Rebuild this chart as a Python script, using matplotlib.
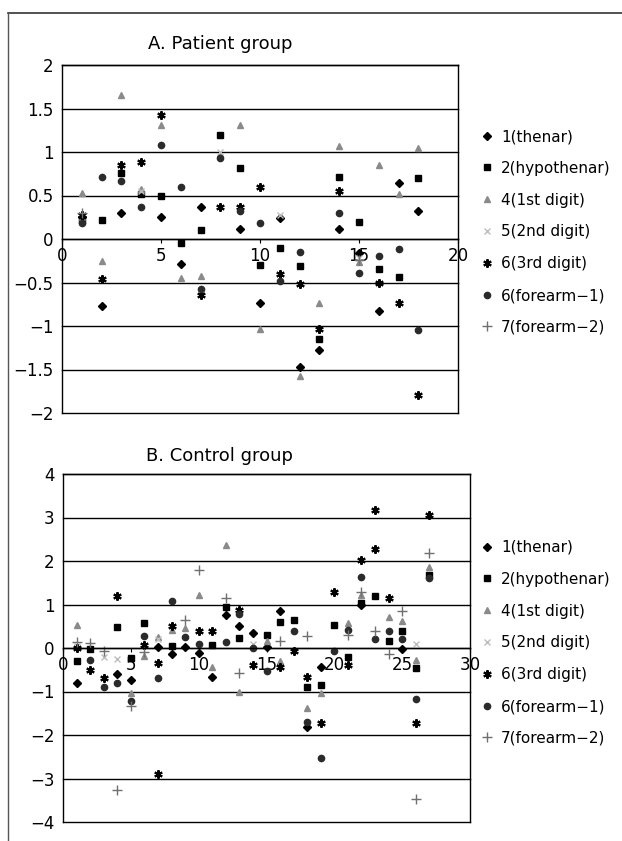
"""
Scatter of response values per subject for the patient and control groups.
Two stacked panels with a marker legend on the right of each.
"""

import matplotlib
matplotlib.use("Agg")
import matplotlib.pyplot as plt
from matplotlib.lines import Line2D

# ---------------------------------------------------------------------------
# Data: one (x, y) list pair per recording site
# ---------------------------------------------------------------------------
series_labels = ["1(thenar)", "2(hypothenar)", "4(1st digit)", "5(2nd digit)",
                 "6(3rd digit)", "6(forearm\u22121)", "7(forearm\u22122)"]

# A. Patient group
a_thenar_x = [1, 2, 3, 5, 6, 7, 9, 10, 11, 12, 13, 14, 15, 16, 17, 18]
a_thenar_y = [0.25, -0.77, 0.30, 0.25, -0.29, 0.37, 0.11, -0.73, 0.24,
              -1.47, -1.28, 0.11, -0.16, -0.83, 0.64, 0.32]
a_hypo_x = [1, 2, 3, 4, 5, 6, 7, 8, 9, 10, 11, 12, 13, 14, 15, 16, 17, 18]
a_hypo_y = [0.22, 0.22, 0.76, 0.52, 0.50, -0.05, 0.10, 1.20, 0.82, -0.30,
            -0.10, -0.31, -1.15, 0.71, 0.19, -0.35, -0.44, 0.70]
a_digit1_x = [1, 2, 3, 4, 5, 6, 7, 8, 9, 10, 12, 13, 14, 15, 16, 17, 18]
a_digit1_y = [0.53, -0.25, 1.66, 0.58, 1.31, -0.45, -0.43, 0.98, 1.31,
              -1.04, -1.58, -0.74, 1.07, -0.26, 0.85, 0.52, 1.05]
a_digit2_x = [1, 4, 8, 11, 15]
a_digit2_y = [0.20, 0.55, 1.00, 0.28, -0.22]
a_digit3_x = [1, 2, 3, 4, 5, 7, 8, 9, 10, 11, 12, 13, 14, 16, 17, 18]
a_digit3_y = [0.28, -0.46, 0.85, 0.88, 1.43, -0.64, 0.37, 0.37, 0.60,
              -0.40, -0.52, -1.03, 0.55, -0.50, -0.73, -1.79]
a_fore1_x = [1, 2, 3, 4, 5, 6, 7, 8, 9, 10, 11, 12, 14, 15, 16, 17, 18]
a_fore1_y = [0.18, 0.71, 0.67, 0.37, 1.08, 0.60, -0.57, 0.93, 0.32, 0.18,
             -0.48, -0.15, 0.30, -0.39, -0.20, -0.11, -1.05]
a_fore2_x = [1, 15]
a_fore2_y = [0.30, -0.24]

# B. Control group
b_thenar_x = [1, 4, 5, 7, 8, 9, 10, 11, 12, 13, 14, 15, 16, 18, 19, 22, 25]
b_thenar_y = [-0.81, -0.60, -0.74, 0.02, -0.14, 0.02, -0.12, -0.66, 0.76,
              0.50, 0.34, 0.02, 0.86, -1.81, -0.43, 1.00, -0.03]
b_hypo_x = [1, 2, 4, 5, 6, 8, 11, 12, 13, 15, 16, 17, 18, 19, 20, 21, 22,
            23, 24, 25, 26, 27]
b_hypo_y = [-0.31, -0.03, 0.48, -0.22, 0.57, 0.05, 0.07, 0.95, 0.22, 0.30,
            0.59, 0.64, -0.90, -0.85, 0.54, -0.20, 1.03, 1.20, 0.17, 0.39,
            -0.45, 1.68]
b_digit1_x = [1, 5, 6, 7, 8, 9, 10, 11, 12, 13, 15, 16, 18, 19, 21, 22, 24,
              25, 26, 27]
b_digit1_y = [0.53, -1.04, -0.18, 0.25, 0.41, 0.45, 1.22, -0.43, 2.37, -1.00,
              0.15, -0.31, -1.39, -1.04, 0.57, 1.22, 0.71, 0.62, -0.28, 1.87]
b_digit2_x = [1, 3, 4, 7, 14, 26]
b_digit2_y = [0.05, -0.20, -0.26, 0.20, 0.10, 0.10]
b_digit3_x = [1, 2, 3, 4, 6, 7, 7, 8, 10, 11, 13, 14, 16, 17, 18, 19, 20,
              21, 22, 23, 23, 24, 26, 27]
b_digit3_y = [0.00, -0.51, -0.70, 1.20, 0.07, -0.35, -2.90, 0.51, 0.40, 0.38,
              0.87, -0.39, -0.43, -0.06, -0.66, -1.73, 1.29, -0.39, 2.02,
              3.17, 2.28, 1.14, -1.73, 3.06]
b_fore1_x = [2, 3, 4, 5, 6, 7, 8, 9, 10, 12, 13, 14, 15, 17, 18, 19, 20, 21,
             22, 23, 24, 25, 26, 27]
b_fore1_y = [-0.28, -0.89, -0.80, -1.21, 0.28, -0.68, 1.07, 0.25, 0.09, 0.13,
             0.78, 0.00, -0.54, 0.39, -1.69, -2.54, -0.06, 0.41, 1.64, 0.20,
             0.38, 0.21, -1.18, 1.60]
b_fore2_x = [1, 2, 3, 4, 5, 6, 9, 10, 12, 13, 16, 18, 21, 22, 23, 24, 25,
             26, 27]
b_fore2_y = [0.14, 0.12, -0.08, -3.27, -1.33, -0.10, 0.64, 1.79, 1.14, -0.58,
             0.15, 0.28, 0.30, 1.29, 0.38, -0.14, 0.86, -3.48, 2.18]

# Marker style per series (same order as series_labels)
MARKER_STYLES = [
    dict(marker="D", ms=4.5, color="black", mec="black"),
    dict(marker="s", ms=4.2, color="black", mec="black"),
    dict(marker="^", ms=5, color="#8a8a8a", mec="#8a8a8a"),
    dict(marker="x", ms=4, color="#bdbdbd", mec="#bdbdbd", mew=1.0),
    dict(marker=(6, 2, 0), ms=6, color="black", mec="black", mew=1.5),
    dict(marker="o", ms=4.5, color="#2b2b2b", mec="#2b2b2b"),
    dict(marker="+", ms=7, color="#707070", mec="#707070", mew=1.0),
]

FONT = "DejaVu Sans"


def draw_panel(ax, data, xmax, ymin, ymax, ystep, yticks_fmt):
    """Draw one scatter panel with Excel-like framing."""
    for (xs, ys), style in zip(data, MARKER_STYLES):
        ax.plot(xs, ys, linestyle="none", **style)

    ax.set_xlim(0, xmax)
    ax.set_ylim(ymin, ymax)

    # horizontal grid lines at every major y value
    yvals = []
    v = ymin
    while v <= ymax + 1e-9:
        yvals.append(round(v, 3))
        v += ystep
    for yv in yvals:
        ax.axhline(yv, color="black", lw=1.0, zorder=1, clip_on=False)

    ax.set_yticks(yvals)
    ax.set_yticklabels([yticks_fmt(v) for v in yvals])
    ax.set_xticks(range(0, int(xmax) + 1, 5))

    # x axis crosses at zero
    ax.spines["bottom"].set_position(("data", 0))
    for side in ["left", "top", "right", "bottom"]:
        ax.spines[side].set_color("black")
        ax.spines[side].set_linewidth(1.0)

    ax.tick_params(axis="y", length=0, pad=6, labelsize=12)
    ax.tick_params(axis="x", direction="out", length=3, pad=3, labelsize=12)
    for lab in ax.get_xticklabels() + ax.get_yticklabels():
        lab.set_fontfamily(FONT)


def fmt_num(v):
    text = f"{v:g}"
    return text.replace("-", "\u2212")


def main():
    fig = plt.figure(figsize=(6.22, 8.41), dpi=100, facecolor="white")

    # outer scanned frame
    fig.add_artist(Line2D([8 / 622, 1], [1 - 13 / 841] * 2, color="#333333",
                          lw=1.2, transform=fig.transFigure))
    fig.add_artist(Line2D([8 / 622] * 2, [0, 1 - 13 / 841], color="#555555",
                          lw=1.0, transform=fig.transFigure))

    ax_a = fig.add_axes([62 / 622, 1 - 413 / 841, 396 / 622, 348 / 841])
    ax_b = fig.add_axes([63 / 622, 1 - 822 / 841, 407 / 622, 348 / 841])

    data_a = [(a_thenar_x, a_thenar_y), (a_hypo_x, a_hypo_y),
              (a_digit1_x, a_digit1_y), (a_digit2_x, a_digit2_y),
              (a_digit3_x, a_digit3_y), (a_fore1_x, a_fore1_y),
              (a_fore2_x, a_fore2_y)]
    data_b = [(b_thenar_x, b_thenar_y), (b_hypo_x, b_hypo_y),
              (b_digit1_x, b_digit1_y), (b_digit2_x, b_digit2_y),
              (b_digit3_x, b_digit3_y), (b_fore1_x, b_fore1_y),
              (b_fore2_x, b_fore2_y)]

    draw_panel(ax_a, data_a, 20, -2, 2, 0.5, fmt_num)
    draw_panel(ax_b, data_b, 30, -4, 4, 1, fmt_num)

    # panel titles
    fig.text(220 / 622, 1 - 44 / 841, "A. Patient group", ha="center",
             va="center", fontsize=13, family=FONT)
    fig.text(220 / 622, 1 - 456 / 841, "B. Control group", ha="center",
             va="center", fontsize=13, family=FONT)

    # legends
    handles = [Line2D([], [], linestyle="none", **st) for st in MARKER_STYLES]
    for top in (1 - 129 / 841, 1 - 540 / 841):
        fig.legend(handles, series_labels, loc="upper left",
                   bbox_to_anchor=(481 / 622, top),
                   bbox_transform=fig.transFigure, frameon=False,
                   handlelength=0.8, handletextpad=0.5, borderpad=0,
                   borderaxespad=0, labelspacing=1.1,
                   prop={"family": FONT, "size": 11})

    fig.savefig("out.png", dpi=100, facecolor="white")
    plt.close(fig)


if __name__ == "__main__":
    main()
